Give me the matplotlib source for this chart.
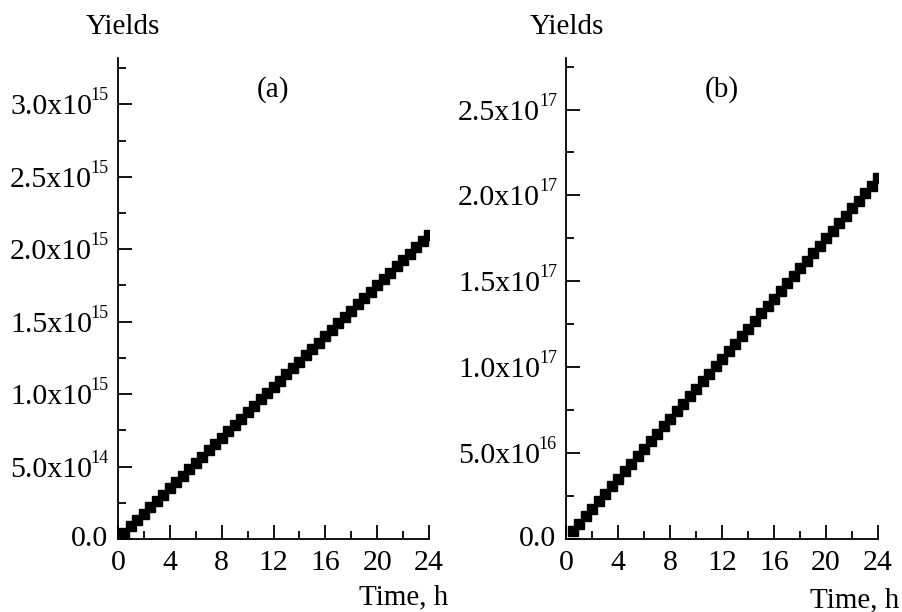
import numpy as np
import matplotlib
matplotlib.use("Agg")
import matplotlib.pyplot as plt
from matplotlib.ticker import MultipleLocator, NullFormatter

plt.rcParams['font.family'] = 'Liberation Serif'

# Dados (tempo em horas)
times = [0.5, 1.0, 1.5, 2.0, 2.5, 3.0, 3.5, 4.0, 4.5, 5.0, 5.5, 6.0,
         6.5, 7.0, 7.5, 8.0, 8.5, 9.0, 9.5, 10.0, 10.5, 11.0, 11.5, 12.0,
         12.5, 13.0, 13.5, 14.0, 14.5, 15.0, 15.5, 16.0, 16.5, 17.0, 17.5, 18.0,
         18.5, 19.0, 19.5, 20.0, 20.5, 21.0, 21.5, 22.0, 22.5, 23.0, 23.5, 24.0]

# painel (a), em unidades de 1e15
yields_a = [0.044, 0.088, 0.131, 0.175, 0.219, 0.263, 0.306, 0.350, 0.394, 0.438, 0.481, 0.525,
            0.569, 0.613, 0.656, 0.700, 0.744, 0.788, 0.831, 0.875, 0.919, 0.963, 1.006, 1.050,
            1.094, 1.138, 1.181, 1.225, 1.269, 1.313, 1.356, 1.400, 1.444, 1.488, 1.531, 1.575,
            1.619, 1.663, 1.706, 1.750, 1.794, 1.838, 1.881, 1.925, 1.969, 2.013, 2.056, 2.100]

# painel (b), em unidades de 1e17
yields_b = [0.044, 0.088, 0.131, 0.175, 0.219, 0.263, 0.306, 0.350, 0.394, 0.438, 0.481, 0.525,
            0.569, 0.613, 0.656, 0.700, 0.744, 0.788, 0.831, 0.875, 0.919, 0.963, 1.006, 1.050,
            1.094, 1.138, 1.181, 1.225, 1.269, 1.313, 1.356, 1.400, 1.444, 1.488, 1.531, 1.575,
            1.619, 1.663, 1.706, 1.750, 1.794, 1.838, 1.881, 1.925, 1.969, 2.013, 2.056, 2.100]

panels = [
    ('(a)', np.array(yields_a) * 1e15, 3.32e15, 5e14),
    ('(b)', np.array(yields_b) * 1e17, 2.80e17, 5e16),
]

W, H = 903, 612
fig = plt.figure(figsize=(W / 100, H / 100), dpi=100)

lefts = [118, 566]
rights = [429, 878]
top, bottom = 58, 539
FS = 21.5

for i, (tag, ys, ymax, ystep) in enumerate(panels):
    ax = fig.add_axes([lefts[i] / W, (H - bottom) / H,
                       (rights[i] - lefts[i]) / W, (bottom - top) / H])
    ax.plot(times, ys, linestyle='none', marker='s', ms=6.8, color='black')
    ax.set_xlim(0, 24)
    ax.set_ylim(0, ymax)
    ax.spines['top'].set_visible(False)
    ax.spines['right'].set_visible(False)
    for s in ['left', 'bottom']:
        ax.spines[s].set_linewidth(1.3)
    ax.xaxis.set_major_locator(MultipleLocator(4))
    ax.xaxis.set_minor_locator(MultipleLocator(2))
    ax.yaxis.set_major_locator(MultipleLocator(ystep))
    ax.yaxis.set_minor_locator(MultipleLocator(ystep / 2))
    ax.yaxis.set_major_formatter(NullFormatter())
    ax.tick_params(which='both', direction='in', width=1.3)
    ax.tick_params(axis='x', labelsize=FS, pad=8)
    ax.tick_params(which='major', length=10)
    ax.tick_params(which='minor', length=6)
    ax.text(0.5, 0.935, tag, transform=ax.transAxes, ha='center', va='center', fontsize=21)

    # rótulos do eixo y no formato 3.0x10^15
    tr = ax.get_yaxis_transform()
    for v in ax.get_yticks():
        if v < 0 or v > ymax:
            continue
        if v == 0:
            ax.annotate('0.0', xy=(0, v), xycoords=tr, xytext=(-10, -7),
                        textcoords='offset pixels', ha='right', va='baseline', fontsize=FS)
            continue
        exp = int(np.floor(np.log10(v) + 1e-9))
        mant = v / 10 ** exp
        ax.annotate('%.1fx10' % mant, xy=(0, v), xycoords=tr, xytext=(-26, -10),
                    textcoords='offset pixels', ha='right', va='baseline', fontsize=FS)
        ax.annotate('%d' % exp, xy=(0, v), xycoords=tr, xytext=(-9, 4),
                    textcoords='offset pixels', ha='right', va='baseline', fontsize=13)

# Rótulos dos eixos
fig.text(123 / W, 1 - 27 / H, 'Yields', ha='center', va='center', fontsize=21)
fig.text(567 / W, 1 - 27 / H, 'Yields', ha='center', va='center', fontsize=21)
fig.text(448 / W, 1 - 597 / H, 'Time, h', ha='right', va='center', fontsize=21)
fig.text(899 / W, 1 - 600 / H, 'Time, h', ha='right', va='center', fontsize=21)

fig.savefig('out.png', dpi=100)
